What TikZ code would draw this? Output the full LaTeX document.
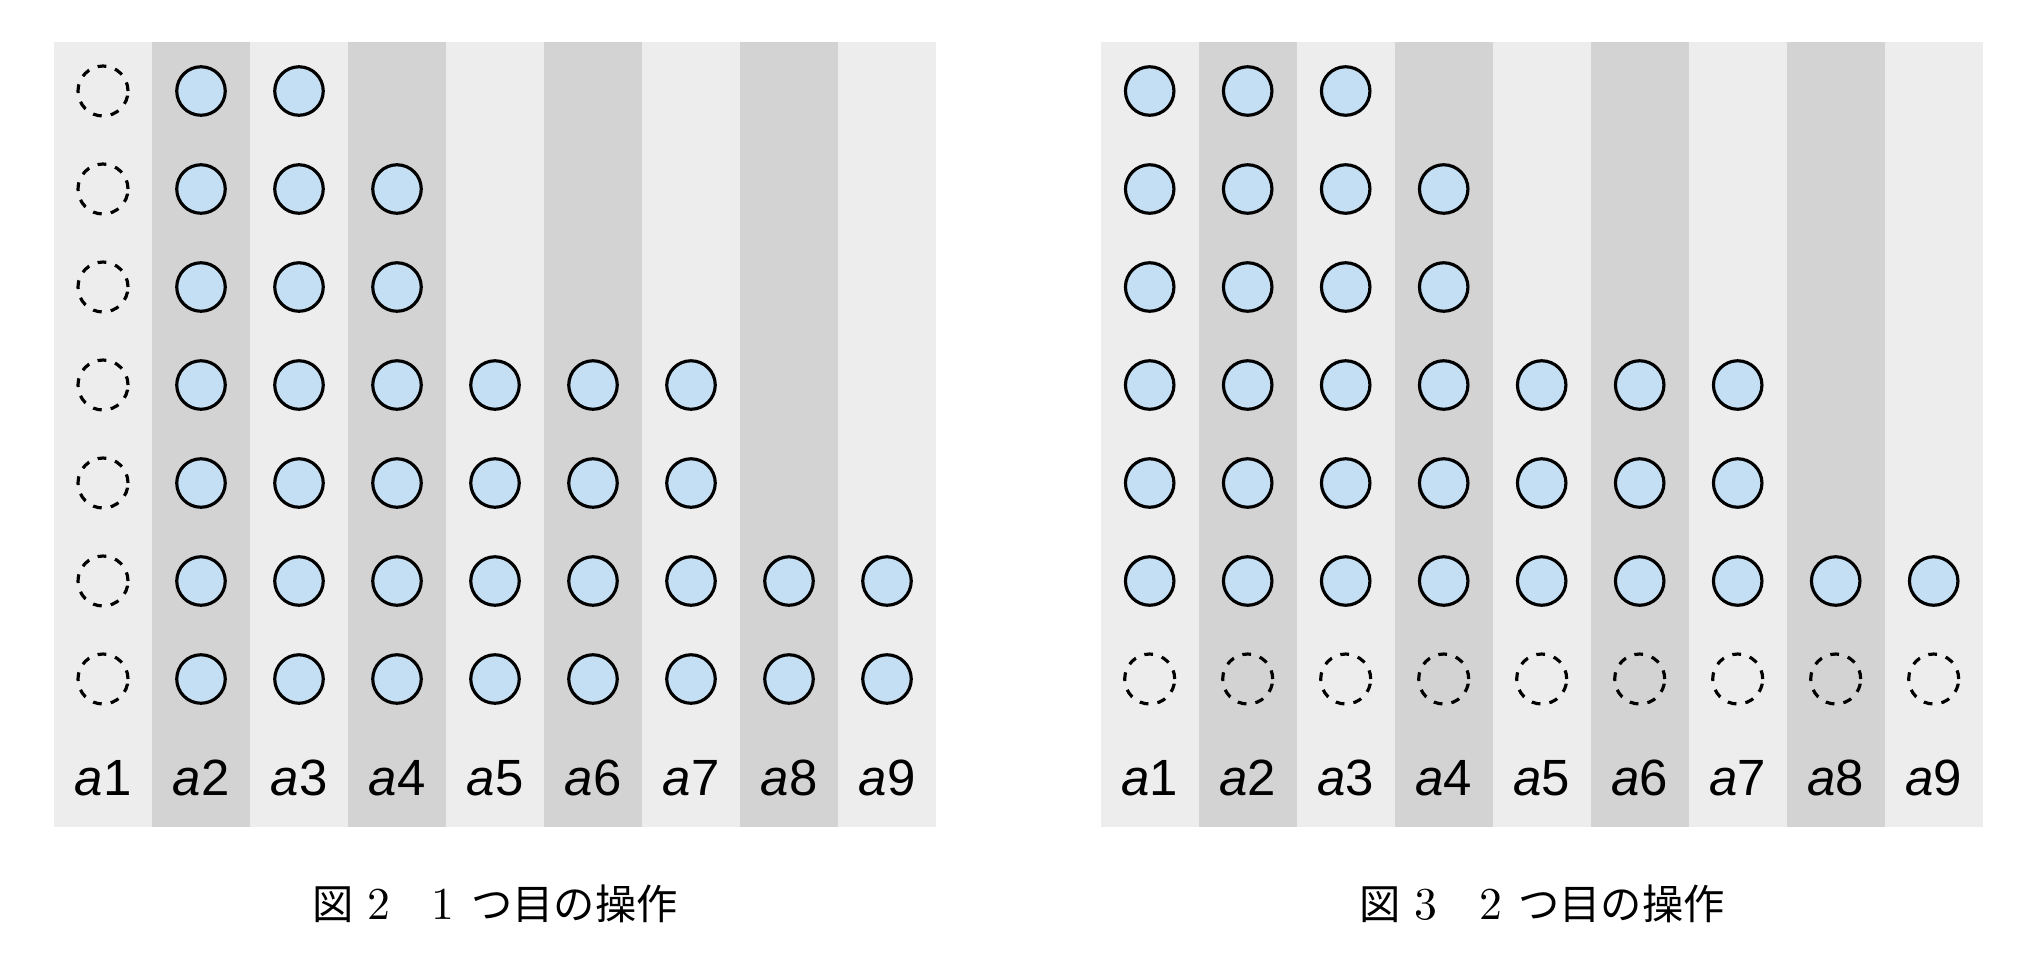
\documentclass[tikz,border=0pt]{standalone}
\usepackage{fontspec}
\newfontfamily\cjk{Noto Sans CJK JP}
\newfontfamily\labfont{Liberation Sans}
\newfontfamily\capnumfont{lmroman10-regular.otf}
\definecolor{colL}{RGB}{237,237,237}
\definecolor{colD}{RGB}{211,211,211}
\definecolor{ballfill}{RGB}{196,223,243}
\newcommand{\capdigit}[1]{{\capnumfont\fontsize{26}{28}\selectfont #1}}
\begin{document}
\begin{tikzpicture}[x=0.02cm,y=-0.02cm,
  ball/.style={circle,draw=black,fill=ballfill,line width=1.8pt,inner sep=0pt,minimum size=0.97cm},
  hole/.style={circle,draw=black,line width=1.8pt,dash pattern=on 5pt off 5.2pt,inner sep=0pt,minimum size=1.0cm},
  collabel/.style={font=\labfont\fontsize{29}{32}\selectfont,inner sep=0pt},
  caption/.style={font=\fontsize{23.5}{28}\selectfont,inner sep=0pt}]
\fill[white] (0,0) rectangle (2040,958);
\useasboundingbox (0,0) rectangle (2040,958);
% panels
\foreach \ox/\p in {54/L,1100.7/R}{
  \foreach \c in {1,...,9}{
    \pgfmathsetmacro{\xa}{\ox+(\c-1)*98}
    \pgfmathtruncatemacro{\odd}{mod(\c,2)}
    \ifnum\odd=1 \fill[colL] (\xa,42) rectangle ++(98,785);
    \else \fill[colD] (\xa,42) rectangle ++(98,785); \fi
    \node[collabel] (\p lab\c) at (\xa+49,778) {\textit{a}\c};
  }
}
% figure 2 (left)
\foreach \r in {1,...,7}{
  \node[hole] (L1r\r) at (103,{91+(\r-1)*98}) {};
}
\foreach \c/\h in {2/7,3/7,4/6,5/4,6/4,7/4,8/2,9/2}{
  \foreach \r in {1,...,7}{
    \pgfmathtruncatemacro{\show}{\r>7-\h ? 1 : 0}
    \ifnum\show=1
      \node[ball] (L\c r\r) at ({103+(\c-1)*98},{91+(\r-1)*98}) {};
    \fi
  }
}
% figure 3 (right)
\foreach \c/\h in {1/6,2/6,3/6,4/5,5/3,6/3,7/3,8/1,9/1}{
  \foreach \r in {1,...,6}{
    \pgfmathtruncatemacro{\show}{\r>6-\h ? 1 : 0}
    \ifnum\show=1
      \node[ball] (R\c r\r) at ({1149.7+(\c-1)*98},{91+(\r-1)*98}) {};
    \fi
  }
  \node[hole] (R\c r7) at ({1149.7+(\c-1)*98},679) {};
}
% captions
\node[caption] (capL) at (495,904) {{\cjk 図}\hspace{0.35em}\capdigit{2}\hspace{1.0em}\capdigit{1}\hspace{0.4em}{\cjk つ目の操作}};
\node[caption] (capR) at (1542,904) {{\cjk 図}\hspace{0.35em}\capdigit{3}\hspace{1.0em}\capdigit{2}\hspace{0.4em}{\cjk つ目の操作}};
\end{tikzpicture}
\end{document}
